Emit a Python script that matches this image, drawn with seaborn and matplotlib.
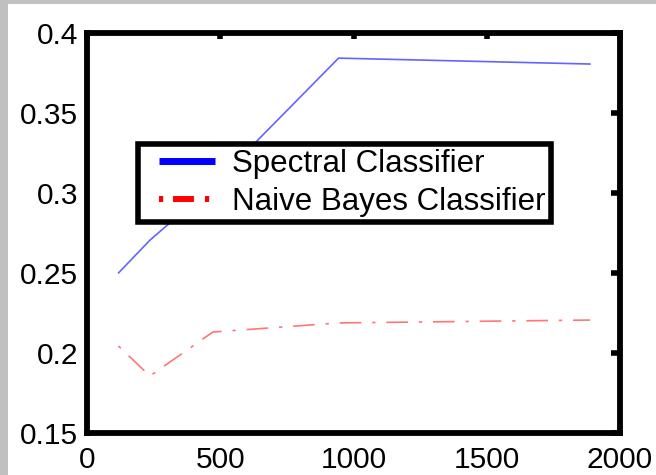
import matplotlib
matplotlib.use("Agg")
import matplotlib.pyplot as plt
import seaborn as sns
import pandas as pd
from matplotlib.lines import Line2D
from matplotlib.patches import Rectangle
from matplotlib.legend_handler import HandlerLine2D

x_vals = [118, 236, 472, 944, 1888]
spectral = [0.250, 0.2705, 0.3045, 0.3843, 0.3806]
naive_bayes = [0.2044, 0.1856, 0.2131, 0.2188, 0.2206]
series_names = ["Spectral Classifier", "Naive Bayes Classifier"]
x_ticks = [0, 500, 1000, 1500, 2000]
y_ticks = [0.15, 0.2, 0.25, 0.3, 0.35, 0.4]
y_tick_labels = ["0.15", "0.2", "0.25", "0.3", "0.35", "0.4"]

df = pd.DataFrame({
    "x": x_vals * 2,
    "y": spectral + naive_bayes,
    "series": [series_names[0]] * len(x_vals) + [series_names[1]] * len(x_vals),
})

sns.set_style("white")
plt.rcParams["font.family"] = ["Liberation Sans", "DejaVu Sans"]
plt.rcParams["text.color"] = "black"

W, H = 656, 475
fig = plt.figure(figsize=(W / 100, H / 100), dpi=100, facecolor="white")
# gray border strips of the scanned figure
fig.patches.append(Rectangle((0, 0), 8 / W, 1, transform=fig.transFigure,
                             facecolor="#c0c0c0", edgecolor="none", zorder=0))
fig.patches.append(Rectangle((0, 1 - 4 / H), 1, 4 / H, transform=fig.transFigure,
                             facecolor="#c0c0c0", edgecolor="none", zorder=0))

L, R, T, B = 87, 620, 33, 433
ax = fig.add_axes([L / W, (H - B) / H, (R - L) / W, (B - T) / H])

palette = {series_names[0]: "#6464ff", series_names[1]: "#ff7676"}
sns.lineplot(data=df, x="x", y="y", hue="series", style="series",
             palette=palette,
             dashes={series_names[0]: "", series_names[1]: (2, 6.5, 13, 6.5)},
             linewidth=1.2, ax=ax, legend=False)

ax.set_xlim(0, 2000)
ax.set_ylim(0.15, 0.4)
ax.set_xticks(x_ticks)
ax.set_xticklabels([str(t) for t in x_ticks])
ax.set_yticks(y_ticks)
ax.set_yticklabels(y_tick_labels)
ax.set_xlabel("")
ax.set_ylabel("")

for s in ax.spines.values():
    s.set_visible(True)
    s.set_color("black")
    s.set_linewidth(4.2)

ax.tick_params(direction="in", width=4, top=True, right=True,
               labelsize=21.5, colors="black")
ax.tick_params(axis="x", length=4.5, pad=9)
ax.tick_params(axis="y", length=6.5, pad=6.5)

handles = [
    Line2D([0], [0], color="blue", lw=5, linestyle="-", solid_capstyle="butt"),
    Line2D([0], [0], color="red", lw=4.3, linestyle=(0, (0.7, 1.65, 3.5, 1.85)),
           dash_capstyle="butt"),
]
fs = 22.5
fs_px = fs * 100 / 72
legend_left_px = 138
legend_top_px = 144
leg = ax.legend(handles, series_names, loc="upper left",
                bbox_to_anchor=((legend_left_px - L) / (R - L), (B - legend_top_px) / (B - T)),
                fontsize=fs, frameon=True, fancybox=False,
                handlelength=72 / fs_px, handletextpad=17 / fs_px,
                borderpad=0.17, labelspacing=0.24,
                borderaxespad=0, labelcolor="black",
                handler_map={Line2D: HandlerLine2D(xpad=16 / fs_px)})
leg.get_frame().set_edgecolor("black")
leg.get_frame().set_linewidth(4)
leg.get_frame().set_facecolor("white")
leg.get_frame().set_alpha(1)

fig.savefig("out.png", dpi=100, facecolor="white")
